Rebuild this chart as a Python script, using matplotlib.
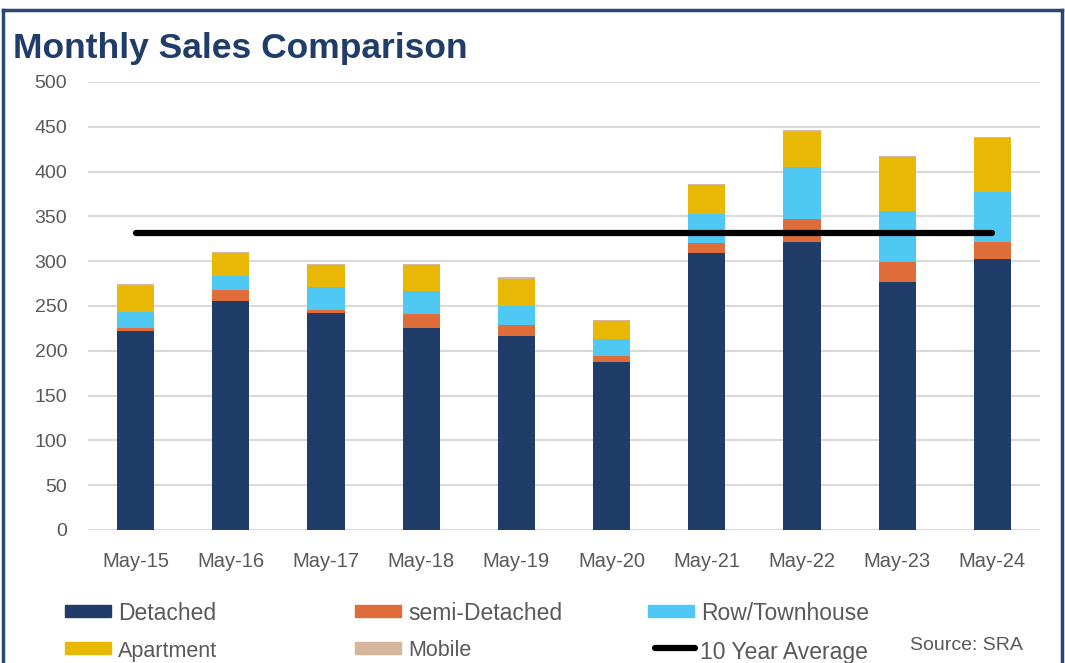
import numpy as np
import matplotlib
matplotlib.use("Agg")
from matplotlib import pyplot as plt
from matplotlib.patches import Rectangle
from matplotlib.lines import Line2D

# monthly sales by dwelling type (May of each year)
months = ["May-15", "May-16", "May-17", "May-18", "May-19",
          "May-20", "May-21", "May-22", "May-23", "May-24"]
detached = [222, 256, 242, 226, 216, 188, 309, 321, 277, 303]
semi_detached = [4, 12, 4, 15, 13, 6, 11, 26, 22, 18]
row_townhouse = [17, 16, 25, 26, 21, 19, 33, 58, 57, 56]
apartment = [29, 25, 25, 29, 30, 20, 32, 39, 60, 61]
mobile = [2, 1, 1, 0.5, 2, 1, 1, 2, 1, 1]
ten_year_avg = 332

series = [
    ("Detached", detached, "#203c69"),
    ("semi-Detached", semi_detached, "#de6d3a"),
    ("Row/Townhouse", row_townhouse, "#4fc9f4"),
    ("Apartment", apartment, "#e8b805"),
    ("Mobile", mobile, "#d5b59c"),
]

plt.rcParams['font.family'] = ['Liberation Sans', 'DejaVu Sans']

fig = plt.figure(figsize=(10.65, 6.63), dpi=100)
ax = fig.add_axes([88 / 1065, 1 - 530 / 663, 952 / 1065, 448 / 663])

x = np.arange(len(months))
bottom = np.zeros(len(months))
for name, vals, color in series:
    ax.bar(x, vals, width=0.39, bottom=bottom, color=color, zorder=3)
    bottom += np.array(vals, dtype=float)

ax.plot([x[0], x[-1]], [ten_year_avg, ten_year_avg], color="black", lw=4.5,
        solid_capstyle="round", zorder=4)

ax.set_xlim(-0.5, len(months) - 0.5)
ax.set_ylim(0, 500)
ax.set_yticks(np.arange(0, 501, 50))
ax.set_xticks(x)
ax.set_xticklabels(months)
ax.grid(axis="y", color="#d9d9d9", lw=1.5, zorder=0)
for s in ax.spines.values():
    s.set_visible(False)
ax.tick_params(axis="both", length=0, labelcolor="#595959")
ax.tick_params(axis="x", pad=16, labelsize=14.5)
ax.tick_params(axis="y", pad=15, labelsize=14)

# title and frame
fig.text(13 / 1065, 1 - 58 / 663, "Monthly Sales Comparison", fontsize=25.5,
         fontweight="bold", color="#203c69", va="baseline", ha="left")
frame = "#2c4675"
fig.add_artist(Line2D([3 / 1065, 3 / 1065], [0, 1 - 10 / 663], color=frame, lw=2.5))
fig.add_artist(Line2D([3 / 1065, 1062 / 1065], [1 - 10 / 663, 1 - 10 / 663], color=frame, lw=2.5))
fig.add_artist(Line2D([1062 / 1065, 1062 / 1065], [0, 1 - 10 / 663], color=frame, lw=2.5))

# legend laid out in two rows of three
def swatch(px, py, color):
    fig.add_artist(Rectangle((px / 1065, 1 - (py + 6) / 663), 46 / 1065, 12 / 663,
                             transform=fig.transFigure, color=color))

entries = [
    (65, 611, "Detached", "#203c69", 16.5),
    (355, 611, "semi-Detached", "#de6d3a", 16.5),
    (648, 611, "Row/Townhouse", "#4fc9f4", 16.5),
    (65, 648, "Apartment", "#e8b805", 15.5),
    (355, 648, "Mobile", "#d5b59c", 15.5),
]
for px, py, label, color, fs in entries:
    swatch(px, py, color)
    fig.text((px + 53) / 1065, 1 - (py + 3) / 663, label, fontsize=fs,
             color="#595959", va="center", ha="left")

fig.add_artist(Line2D([655 / 1065, 695 / 1065], [1 - 648 / 663, 1 - 648 / 663],
                      color="black", lw=4.5, solid_capstyle="round"))
fig.text(700 / 1065, 1 - 652 / 663, "10 Year Average", fontsize=16.5,
         color="#595959", va="center", ha="left")
fig.text(910 / 1065, 1 - 646 / 663, "Source: SRA", fontsize=14,
         color="#595959", va="center", ha="left")

fig.savefig("out.png", dpi=100)
